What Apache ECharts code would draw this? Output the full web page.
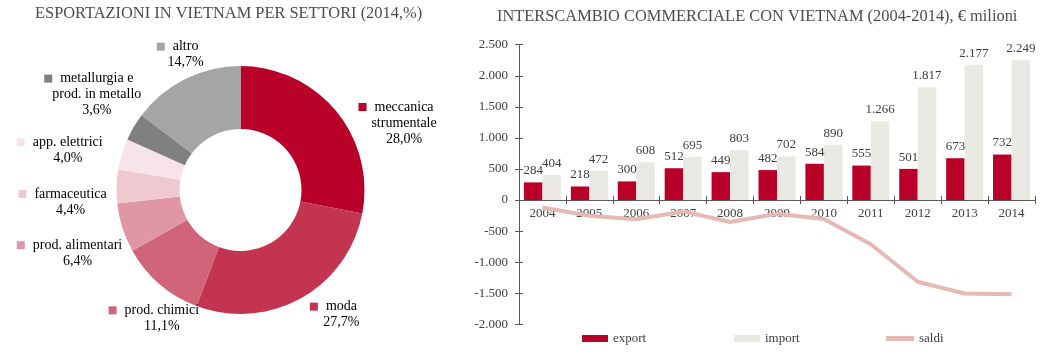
<!DOCTYPE html>
<html>
<head>
<meta charset="utf-8">
<script src="https://cdn.jsdelivr.net/npm/echarts@6/dist/echarts.min.js"></script>
<style>
  html, body { margin: 0; padding: 0; background: #fff; }
  #chart { width: 1040px; height: 354px; }
</style>
</head>
<body>
<div id="chart"></div>
<script>
// left: export shares by sector, 2014 (%)
const sectors = ['meccanica\nstrumentale', 'moda', 'prod. chimici', 'prod. alimentari', 'farmaceutica', 'app. elettrici', 'metallurgia e\nprod. in metallo', 'altro']
const shares = [28.0, 27.7, 11.1, 6.4, 4.4, 4.0, 3.6, 14.7]

// right: trade with Vietnam, € millions
const years = ['2004', '2005', '2006', '2007', '2008', '2009', '2010', '2011', '2012', '2013', '2014']
const exportVals = [284, 218, 300, 512, 449, 482, 584, 555, 501, 673, 732]
const importVals = [404, 472, 608, 695, 803, 702, 890, 1266, 1817, 2177, 2249]
const saldiVals = [-120, -254, -308, -183, -354, -220, -306, -711, -1316, -1504, -1517]
const yTicks = { min: -2000, max: 2500, step: 500 }

const FONT = '"Liberation Serif", "DejaVu Serif", serif'
const TEXT = '#404040'
const AXIS = '#595959'
const pieColors = ['#b80028', '#c33450', '#d0657a', '#e096a4', '#eecad0', '#f7e4e8', '#808080', '#a5a5a5']
// small nudges so the sector labels sit where the original puts them
const labelNudge = [[34, 40], [19, -22], [31, 1], [-3, 12], [-2, 17], [-12, 9], [1, -10], [20, 15]]

// grid of the bar chart
const GRID = { left: 519, right: 5, top: 44.7, bottom: 29.7 }
const zeroShift = -(354 - GRID.bottom - (GRID.top + (yTicks.max / (yTicks.max - yTicks.min)) * (354 - GRID.top - GRID.bottom)))

function fmtThousands(v) {
  const s = String(Math.abs(v)).replace(/\B(?=(\d{3})+(?!\d))/g, '.')
  return v < 0 ? '-' + s : s
}

function pieRich(color) {
  return {
    s: { width: 8, height: 8, backgroundColor: color },
    g: { width: 8 },
    t: { width: 16 },
    n: { fontFamily: FONT, fontSize: 14, color: '#000', lineHeight: 16 },
    p: { fontFamily: FONT, fontSize: 14, color: '#000', lineHeight: 16 },
  }
}

function pieLabel(params) {
  const lines = params.name.split('\n')
  const out = ['{s|}{g|}{n|' + lines[0] + '}{t|}']
  for (let i = 1; i < lines.length; i++) out.push('{n|' + lines[i] + '}')
  out.push('{p|' + params.value.toFixed(1).replace('.', ',') + '%}')
  return out.join('\n')
}

const ringData = sectors.map((name, i) => ({ name, value: shares[i], itemStyle: { color: pieColors[i] } }))
const labelData = sectors.map((name, i) => ({
  name,
  value: shares[i],
  label: { rich: pieRich(pieColors[i]) },
}))

const legendText = { fontFamily: FONT, fontSize: 13, color: TEXT }
function legendAt(name, left, w, h) {
  return {
    data: [{ name, icon: 'rect' }],
    left, top: 327,
    itemWidth: w, itemHeight: h,
    selectedMode: false,
    textStyle: legendText,
  }
}

const barLabel = { show: true, position: 'top', distance: 5, color: TEXT, fontFamily: FONT, fontSize: 13, formatter: (p) => fmtThousands(p.value) }

const chart = echarts.init(document.getElementById('chart'), null, { renderer: 'canvas' })

chart.setOption({
  animation: false,
  textStyle: { fontFamily: FONT },
  title: [
    {
      text: 'ESPORTAZIONI IN VIETNAM PER SETTORI (2014,%)',
      left: 30,
      top: 1,
      textStyle: { fontFamily: FONT, fontSize: 16.4, fontWeight: 'normal', color: '#4d4d4d' },
    },
    {
      text: 'INTERSCAMBIO COMMERCIALE CON VIETNAM (2004-2014), € milioni',
      left: 492,
      top: 4,
      textStyle: { fontFamily: FONT, fontSize: 16.4, fontWeight: 'normal', color: '#4d4d4d' },
    },
  ],
  legend: [legendAt('export', 577, 26, 7), legendAt('import', 729, 26, 7), legendAt('saldi', 881, 28, 5)],
  grid: { left: GRID.left, right: GRID.right, top: GRID.top, bottom: GRID.bottom, containLabel: false },
  xAxis: [
    {
      type: 'category',
      position: 'bottom',
      offset: zeroShift,
      data: years,
      axisLine: { onZero: false, lineStyle: { color: AXIS, width: 1 } },
      axisTick: { show: true, length: 4, lineStyle: { color: AXIS } },
      axisLabel: { color: TEXT, fontFamily: FONT, fontSize: 13, margin: 7 },
    },
    {
      type: 'category',
      position: 'bottom',
      offset: zeroShift,
      data: years,
      axisLine: { show: false, onZero: false },
      axisTick: { show: true, inside: true, length: 4, lineStyle: { color: AXIS } },
      axisLabel: { show: false },
    },
  ],
  yAxis: [
    {
      type: 'value',
      min: yTicks.min,
      max: yTicks.max,
      interval: yTicks.step,
      axisLine: { show: true, lineStyle: { color: AXIS } },
      axisTick: { show: true, length: 4, lineStyle: { color: AXIS } },
      axisLabel: { color: TEXT, fontFamily: FONT, fontSize: 13, margin: 11, formatter: fmtThousands },
      splitLine: { show: false },
    },
    {
      type: 'value',
      position: 'left',
      min: yTicks.min,
      max: yTicks.max,
      interval: yTicks.step,
      axisLine: { show: false },
      axisTick: { show: true, inside: true, length: 4, lineStyle: { color: AXIS } },
      axisLabel: { show: false },
      splitLine: { show: false },
    },
  ],
  series: [
    {
      type: 'pie',
      silent: true,
      center: [240.5, 190],
      radius: [61, 124],
      startAngle: 90,
      clockwise: true,
      label: { show: false },
      labelLine: { show: false },
      data: ringData,
    },
    {
      // transparent ring only to place the sector labels
      type: 'pie',
      silent: true,
      center: [240.5, 190],
      radius: [150, 180],
      startAngle: 90,
      clockwise: true,
      avoidLabelOverlap: false,
      itemStyle: { color: 'rgba(0,0,0,0)' },
      label: { show: true, position: 'inside', formatter: pieLabel },
      labelLine: { show: false },
      labelLayout: (p) => ({ dx: labelNudge[p.dataIndex][0], dy: labelNudge[p.dataIndex][1], hideOverlap: false }),
      data: labelData,
    },
    {
      name: 'export',
      type: 'bar',
      barWidth: 18.5,
      barGap: '0%',
      itemStyle: { color: '#b90028' },
      label: barLabel,
      data: exportVals,
    },
    {
      name: 'import',
      type: 'bar',
      barWidth: 18.5,
      barGap: '0%',
      itemStyle: { color: '#e9e8e3' },
      label: barLabel,
      data: importVals,
    },
    {
      name: 'saldi',
      type: 'line',
      symbol: 'none',
      smooth: false,
      itemStyle: { color: '#e6b9b4' },
      lineStyle: { color: '#e6b9b4', width: 4 },
      data: saldiVals,
    },
  ],
})
</script>
</body>
</html>
